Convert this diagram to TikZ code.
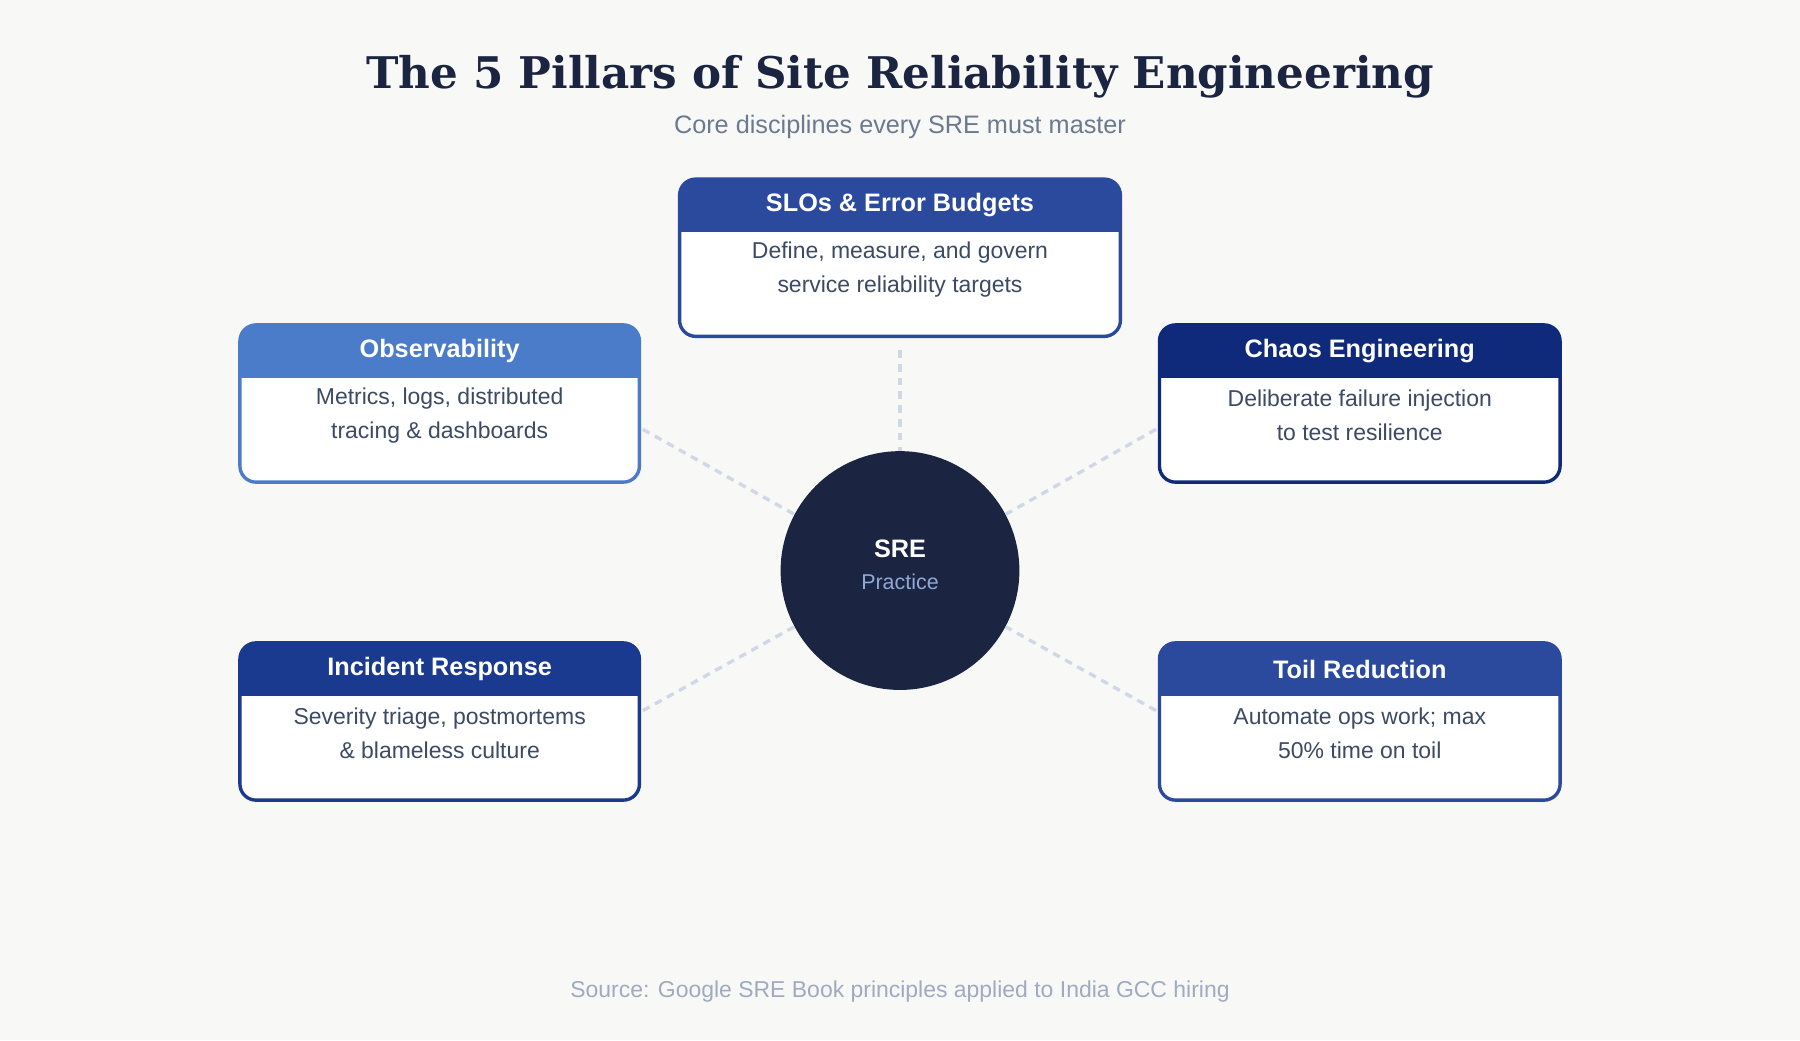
\documentclass[tikz,border=0pt]{standalone}
\usepackage{fontspec}
\setmainfont{Liberation Sans}
\newfontfamily\titlefont{DejaVu Serif}
\definecolor{bg}{HTML}{F8F8F7}
\definecolor{body}{HTML}{3D4A63}
\definecolor{sub}{HTML}{6B7A90}
\definecolor{foot}{HTML}{A0AAC0}
\definecolor{dashc}{HTML}{D0D8E8}
\definecolor{cA}{HTML}{2B4A9E}
\definecolor{cB}{HTML}{4A7CC9}
\definecolor{cC}{HTML}{0F2A7A}
\definecolor{cD}{HTML}{1A3A8F}
\definecolor{dark}{HTML}{1B2440}
\definecolor{prac}{HTML}{8FA8D8}
\tikzset{
  conn/.style={draw=dashc, line width=2.2pt, dash pattern=on 5pt off 4pt},
  hdr/.style={text=white, font=\bfseries\fontsize{16.5}{20}\selectfont},
  bod/.style={text=body, font=\fontsize{15}{22.5}\selectfont, align=center},
}
\newcommand{\pillar}[9]{%
  \begin{scope}
    \clip[rounded corners=10.5pt] (#2,#3) rectangle (#4,#5);
    \fill[white] (#2,#3) rectangle (#4,#5);
    \fill[#6] (#2,#3) rectangle (#4,#3+46);
  \end{scope}
  \draw[#6, line width=2.2pt, rounded corners=10.5pt] (#2,#3) rectangle (#4,#5);
  \node[hdr] (#1h) at ({(#2+#4)/2},#3+23) {#7};
  \node[bod] (#1b) at ({(#2+#4)/2},#3+79) {#8\\#9};
  \coordinate (#1) at ({(#2+#4)/2},{(#3+#5)/2});
}
\begin{document}
\begin{tikzpicture}[x=0.75pt,y=-0.75pt]
\fill[bg] (0,0) rectangle (1568,906);
\useasboundingbox (0,0) rectangle (1568,906);
\node[text=dark, font=\titlefont\bfseries\fontsize{28.5}{34}\selectfont] (title) at (784,67) {The 5 Pillars of Site Reliability Engineering};
\node[text=sub, font=\fontsize{16.5}{20}\selectfont] (subt) at (784,111) {Core disciplines every SRE must master};

\node[circle, fill=dark, minimum size=156pt, inner sep=0pt] (c) at (784,497) {};
\node[text=white, font=\bfseries\fontsize{16.5}{20}\selectfont] (sre) at (784,478) {SRE};
\node[text=prac, font=\fontsize{14}{17}\selectfont] (pr) at (784,507) {Practice};

\coordinate (t1) at (784,305); \coordinate (l1) at (560,374); \coordinate (r1) at (1007,374);
\coordinate (l2) at (560,619); \coordinate (r2) at (1007,619);
\draw[conn] (t1) -- (c.90);
\draw[conn] (l1) -- (c.152);
\draw[conn] (r1) -- (c.28);
\draw[conn] (l2) -- (c.208);
\draw[conn] (r2) -- (c.332);

\pillar{slo}{592}{156}{976}{293}{cA}{SLOs \& Error Budgets}{Define, measure, and govern}{service reliability targets}
\pillar{obs}{209}{283}{557}{420}{cB}{Observability}{Metrics, logs, distributed}{tracing \& dashboards}
\pillar{chaos}{1010}{283}{1359}{420}{cC}{Chaos Engineering}{Deliberate failure injection}{to test resilience}
\pillar{inc}{209}{560}{557}{697}{cD}{Incident Response}{Severity triage, postmortems}{\& blameless culture}
\pillar{toil}{1010}{560}{1359}{697}{cA}{Toil Reduction}{Automate ops work; max}{50\% time on toil}

\node[text=foot, font=\fontsize{15}{18}\selectfont] (src) at (784,864) {Source: Google SRE Book principles applied to India GCC hiring};
\end{tikzpicture}
\end{document}
